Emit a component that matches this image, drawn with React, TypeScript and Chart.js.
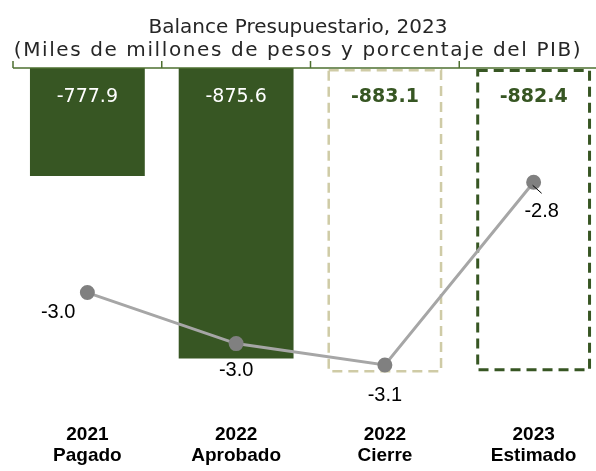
import React, { useEffect, useRef } from "react";
import { Chart, registerables } from "chart.js";

Chart.register(...registerables);

// ---- data ----
const categoryYears = ["2021", "2022", "2022", "2023"];
const categoryStatus = ["Pagado", "Aprobado", "Cierre", "Estimado"];
const balanceMMP = [-777.9, -875.6, -883.1, -882.4];
const balancePIB = [-2.965, -3.046, -3.08, -2.79];
const titleLines = [
  "Balance Presupuestario, 2023",
  "(Miles de millones de pesos y porcentaje del PIB)",
];

// ---- styles ----
const DARK_GREEN = "#375623";
const KHAKI = "#CFCBA6";
const barFills = [DARK_GREEN, DARK_GREEN, "rgba(0,0,0,0)", "rgba(0,0,0,0)"];
const barDashed: ({ color: string; width: number } | null)[] = [
  null,
  null,
  { color: KHAKI, width: 2.5 },
  { color: DARK_GREEN, width: 3 },
];
const barLabelStyle = [
  { color: "#FFFFFF", weight: "normal" },
  { color: "#FFFFFF", weight: "normal" },
  { color: DARK_GREEN, weight: "bold" },
  { color: DARK_GREEN, weight: "bold" },
];
// label placement relative to each line point
const lineLabelPlace = [
  { dx: -12, dy: 25, align: "right" as CanvasTextAlign },
  { dx: 0, dy: 32, align: "center" as CanvasTextAlign },
  { dx: 0, dy: 36, align: "center" as CanvasTextAlign },
  { dx: 8, dy: 35, align: "center" as CanvasTextAlign },
];

const VISIBLE_W = 596;
const CANVAS_W = 617;
const CANVAS_H = 471;

function barGeom(chart: any, bar: any) {
  const yScale = chart.scales.y;
  const basePx = yScale.getBasePixel();
  const x = bar.x;
  const y = bar.y;
  const width = bar.width;
  return { x, y, base: basePx, width };
}

const customDraw = {
  id: "customDraw",
  beforeDatasetsDraw(chart: any) {
    const ctx = chart.ctx;
    const meta = chart.getDatasetMeta(0);
    meta.data.forEach((bar: any, i: number) => {
      const st = barDashed[i];
      if (!st) return;
      const { x, y, base, width } = barGeom(chart, bar);
      const top = Math.min(y, base);
      const bottom = Math.max(y, base);
      const hw = st.width / 2;
      ctx.save();
      ctx.strokeStyle = st.color;
      ctx.lineWidth = st.width;
      ctx.setLineDash([10, 6]);
      ctx.strokeRect(x - width / 2 + hw, top + hw + 1, width - st.width, bottom - top - st.width - 1);
      ctx.restore();
    });
  },
  afterDatasetsDraw(chart: any) {
    const ctx = chart.ctx;
    const area = chart.chartArea;
    // bar value labels
    const barMeta = chart.getDatasetMeta(0);
    barMeta.data.forEach((bar: any, i: number) => {
      const { x, base } = barGeom(chart, bar);
      const st = barLabelStyle[i];
      ctx.save();
      ctx.fillStyle = st.color;
      ctx.font = `${st.weight === "bold" ? "bold " : ""}19px "DejaVu Sans", sans-serif`;
      ctx.textAlign = "center";
      ctx.textBaseline = "alphabetic";
      ctx.fillText(balanceMMP[i].toFixed(1), x, base + 34);
      ctx.restore();
    });
    // line labels
    const lineMeta = chart.getDatasetMeta(1);
    lineMeta.data.forEach((pt: any, i: number) => {
      const x = pt.x;
      const y = pt.y;
      const p = lineLabelPlace[i];
      ctx.save();
      ctx.fillStyle = "#000000";
      ctx.font = `20px "Liberation Sans", sans-serif`;
      ctx.textAlign = p.align;
      ctx.textBaseline = "alphabetic";
      ctx.fillText(balancePIB[i].toFixed(1), x + p.dx, y + p.dy);
      if (i === 3) {
        ctx.strokeStyle = "#000000";
        ctx.lineWidth = 1;
        ctx.beginPath();
        ctx.moveTo(x - 1, y + 3);
        ctx.lineTo(x + 8, y + 11);
        ctx.stroke();
      }
      ctx.restore();
    });
    // top category axis line with tick marks
    const xs = chart.scales.x;
    const step = xs.getPixelForValue(1) - xs.getPixelForValue(0);
    ctx.save();
    ctx.strokeStyle = "#4E7031";
    ctx.lineWidth = 1.5;
    ctx.beginPath();
    ctx.moveTo(area.left, area.top);
    ctx.lineTo(area.right, area.top);
    for (let i = 0; i <= categoryYears.length; i++) {
      const bx = xs.getPixelForValue(0) - step / 2 + i * step;
      ctx.moveTo(bx, area.top);
      ctx.lineTo(bx, area.top - 7);
    }
    ctx.stroke();
    ctx.restore();
    // title
    ctx.save();
    ctx.fillStyle = "#262626";
    ctx.font = `20px "DejaVu Sans", sans-serif`;
    ctx.textAlign = "center";
    ctx.textBaseline = "alphabetic";
    ctx.fillText(titleLines[0], VISIBLE_W / 2, 33);
    (ctx as any).letterSpacing = "1.6px";
    ctx.fillText(titleLines[1], VISIBLE_W / 2, 56);
    ctx.restore();
  },
};

export default function App() {
  const ref = useRef<HTMLCanvasElement | null>(null);
  useEffect(() => {
    document.body.style.margin = "0";
    const canvas = ref.current!;
    const labels = categoryYears.map((y, i) => [y, categoryStatus[i]]);
    const chart = new Chart(canvas, {
      data: {
        labels,
        datasets: [
          {
            type: "bar",
            label: "Miles de millones",
            data: balanceMMP,
            yAxisID: "y",
            backgroundColor: barFills,
            borderWidth: 0,
            barPercentage: 1,
            categoryPercentage: 0.772,
            order: 1,
          } as any,
          {
            type: "line",
            label: "% PIB",
            data: balancePIB,
            yAxisID: "y2",
            borderColor: "#A6A6A6",
            borderWidth: 3,
            pointBackgroundColor: "#808080",
            pointBorderColor: "#808080",
            pointRadius: 6,
            tension: 0,
            order: 0,
          } as any,
        ],
      },
      options: {
        animation: false,
        responsive: false,
        devicePixelRatio: 1,
        layout: { padding: { left: 13, right: 0, top: 68, bottom: 0 } },
        plugins: { legend: { display: false }, tooltip: { enabled: false }, title: { display: false } },
        scales: {
          x: {
            type: "category",
            position: "bottom",
            offset: true,
            grid: { display: false, drawTicks: false },
            border: { display: false },
            ticks: {
              color: "#000000",
              font: { family: "Liberation Sans", size: 19, weight: "bold", lineHeight: 1.1 },
              padding: 20,
              maxRotation: 0,
              autoSkip: false,
            },
            afterFit: (scale: any) => {
              scale.height = 67;
            },
          },
          y: {
            type: "linear",
            display: false,
            min: -900,
            max: -720,
          },
          y2: {
            type: "linear",
            display: false,
            min: -3.1419,
            max: -2.6086,
          },
        },
      } as any,
      plugins: [customDraw],
    });
    return () => chart.destroy();
  }, []);
  return (
    <div style={{ width: VISIBLE_W, height: CANVAS_H, overflow: "hidden", position: "relative", background: "#fff" }}>
      <canvas ref={ref} width={CANVAS_W} height={CANVAS_H} style={{ display: "block", width: CANVAS_W, height: CANVAS_H }} />
    </div>
  );
}
